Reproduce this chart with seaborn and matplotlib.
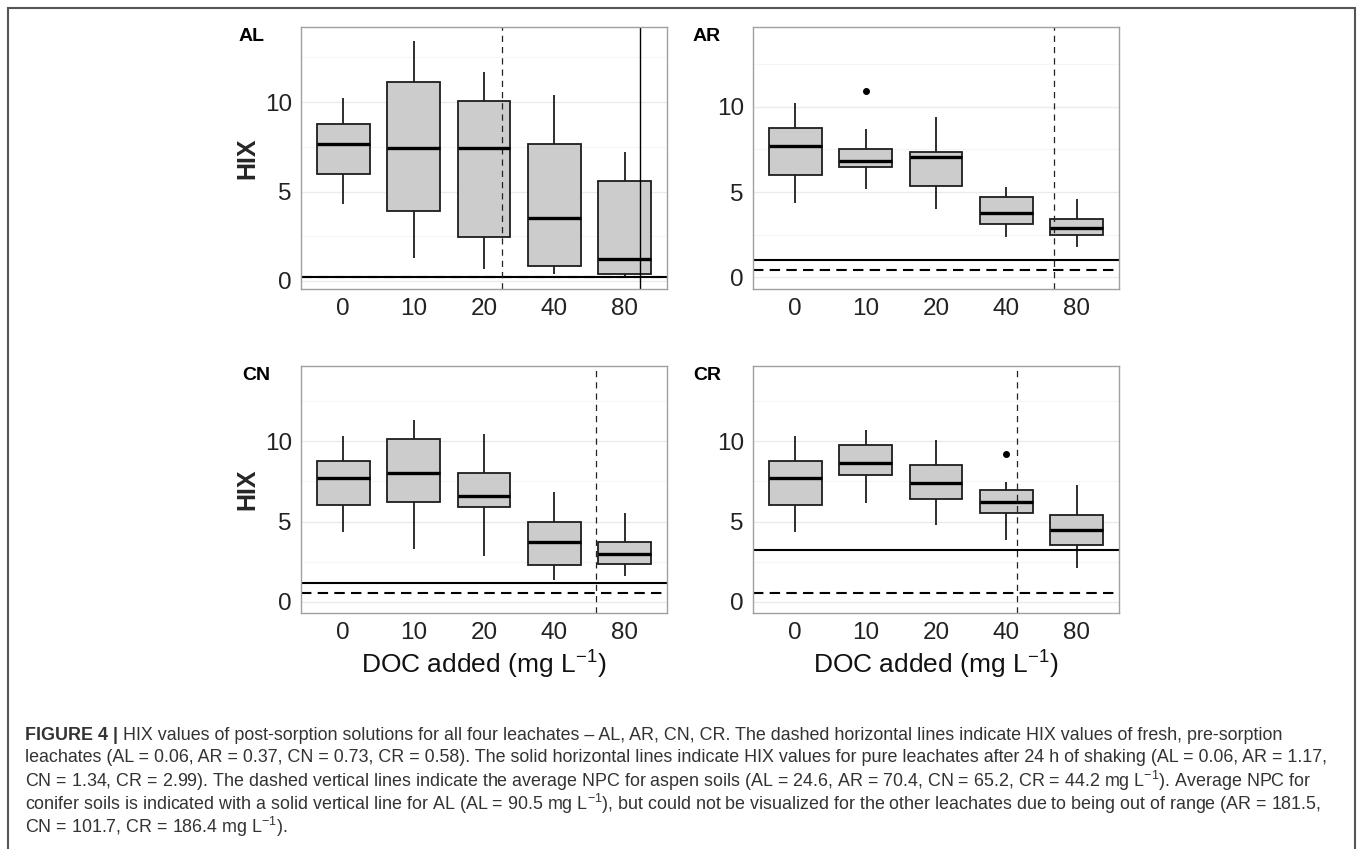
import numpy as np
import pandas as pd
import matplotlib
matplotlib.use("Agg")
import matplotlib.pyplot as plt
import seaborn as sns
from matplotlib.patches import Rectangle
from matplotlib.ticker import MultipleLocator

# --- data ---------------------------------------------------------------
doc_levels = ["0", "10", "20", "40", "80"]
panels = ["AL", "AR", "CN", "CR"]

# box summaries per panel, one value per DOC level
whisker_low = {
    "AL": [4.31, 1.30, 0.69, 0.39, 0.24],
    "AR": [4.33, 5.16, 3.98, 2.37, 1.78],
    "CN": [4.35, 3.27, 2.88, 1.38, 1.63],
    "CR": [4.35, 6.17, 4.77, 3.88, 2.08],
}
q1 = {
    "AL": [5.98, 3.93, 2.44, 0.85, 0.37],
    "AR": [5.98, 6.49, 5.35, 3.14, 2.47],
    "CN": [6.02, 6.23, 5.90, 2.31, 2.35],
    "CR": [6.02, 7.90, 6.42, 5.52, 3.56],
}
median = {
    "AL": [7.68, 7.41, 7.41, 3.50, 1.20],
    "AR": [7.71, 6.84, 7.04, 3.75, 2.88],
    "CN": [7.73, 8.00, 6.60, 3.73, 3.00],
    "CR": [7.73, 8.63, 7.42, 6.21, 4.50],
}
q3 = {
    "AL": [8.76, 11.15, 10.07, 7.63, 5.61],
    "AR": [8.78, 7.51, 7.37, 4.71, 3.41],
    "CN": [8.79, 10.15, 8.00, 5.00, 3.71],
    "CR": [8.79, 9.77, 8.54, 6.98, 5.42],
}
whisker_high = {
    "AL": [10.24, 13.42, 11.69, 10.41, 7.19],
    "AR": [10.22, 8.69, 9.43, 5.27, 4.57],
    "CN": [10.31, 11.33, 10.48, 6.85, 5.54],
    "CR": [10.31, 10.71, 10.10, 7.46, 7.31],
}
# single outliers: panel -> (level index, value)
outliers = {"AR": (1, 10.94), "CR": (3, 9.20)}

# reference lines
fresh_hix = {"AL": 0.20, "AR": 0.40, "CN": 0.56, "CR": 0.56}     # dashed
shaken_hix = {"AL": 0.20, "AR": 1.00, "CN": 1.19, "CR": 3.25}    # solid
aspen_npc_pos = {"AL": 2.26, "AR": 3.67, "CN": 3.59, "CR": 3.15}  # dashed vertical
conifer_npc_pos = {"AL": 4.21}                                     # solid vertical

y_limits = {"AL": (-0.45, 14.2), "AR": (-0.7, 14.7), "CN": (-0.7, 14.7), "CR": (-0.7, 14.7)}

caption_lines = [
    " HIX values of post-sorption solutions for all four leachates \u2013 AL, AR, CN, CR. "
    "The dashed horizontal lines indicate HIX values of fresh, pre-sorption",
    "leachates (AL = 0.06, AR = 0.37, CN = 0.73, CR = 0.58). The solid horizontal lines "
    "indicate HIX values for pure leachates after 24 h of shaking (AL = 0.06, AR = 1.17,",
    "CN = 1.34, CR = 2.99). The dashed vertical lines indicate the average NPC for aspen "
    "soils (AL = 24.6, AR = 70.4, CN = 65.2, CR = 44.2 mg L$^{-1}$). Average NPC for",
    "conifer soils is indicated with a solid vertical line for AL (AL = 90.5 mg L$^{-1}$), "
    "but could not be visualized for the other leachates due to being out of range (AR = 181.5,",
    "CN = 101.7, CR = 186.4 mg L$^{-1}$).",
]


def box_sample(panel, i):
    lo, a, m, b, hi = (whisker_low[panel][i], q1[panel][i], median[panel][i],
                       q3[panel][i], whisker_high[panel][i])
    if panel in outliers and outliers[panel][0] == i:
        return [lo, a, a, m, m, b, b, hi, outliers[panel][1]]
    return [lo, a, m, b, hi]


rows = []
for p in panels:
    for i, lvl in enumerate(doc_levels):
        for v in box_sample(p, i):
            rows.append({"panel": p, "doc": lvl, "hix": v})
df = pd.DataFrame(rows)

# --- styling -------------------------------------------------------------
sns.set_style("white")
plt.rcParams["font.family"] = ["Liberation Sans", "DejaVu Sans"]
plt.rcParams["mathtext.fontset"] = "custom"
plt.rcParams["mathtext.rm"] = "Liberation Sans"
plt.rcParams["mathtext.it"] = "Liberation Sans:italic"
plt.rcParams["mathtext.bf"] = "Liberation Sans:bold"
plt.rcParams["mathtext.default"] = "regular"

W, H = 1358, 849
fig = plt.figure(figsize=(W / 100, H / 100), dpi=100)

# axes boxes in pixels: left, top, right, bottom
rects = {
    "AL": (301, 27, 667, 289),
    "AR": (753, 27, 1119, 289),
    "CN": (301, 366, 667, 613),
    "CR": (753, 366, 1119, 613),
}
label_pos = {"AL": (239, 28), "AR": (693, 28), "CN": (242, 367), "CR": (693, 367)}

for p in panels:
    l, t, r, b = rects[p]
    ax = fig.add_axes([l / W, 1 - b / H, (r - l) / W, (b - t) / H])
    ax.set_facecolor("white")
    ax.set_axisbelow(True)
    ax.yaxis.set_major_locator(MultipleLocator(5))
    ax.yaxis.set_minor_locator(MultipleLocator(2.5))
    ax.grid(which="major", color="#EBEBEB", linewidth=1.0)
    ax.grid(which="minor", axis="y", color="#F5F5F5", linewidth=0.8)

    sns.boxplot(
        data=df[df["panel"] == p], x="doc", y="hix", order=doc_levels,
        color="#CCCCCC", saturation=1, width=0.75, linecolor="#1E1E1E",
        linewidth=1.3, showcaps=False, ax=ax,
        medianprops=dict(color="black", linewidth=2.4),
        flierprops=dict(marker="o", markerfacecolor="black",
                        markeredgecolor="black", markersize=4),
    )

    ax.axhline(shaken_hix[p], color="black", linewidth=1.5)
    ax.axhline(fresh_hix[p], color="black", linewidth=1.5, linestyle=(0, (5, 3)))
    ax.axvline(aspen_npc_pos[p], color="#222222", linewidth=0.9, linestyle=(0, (5, 4)))
    if p in conifer_npc_pos:
        ax.axvline(conifer_npc_pos[p], color="black", linewidth=1.0)

    ax.set_xlim(-0.6, 4.6)
    ax.set_ylim(*y_limits[p])
    ax.set_xlabel("")
    ax.set_ylabel("")
    for s in ax.spines.values():
        s.set_visible(True)
        s.set_color("#A0A0A0")
        s.set_linewidth(1.0)
    ax.tick_params(axis="both", which="major", labelsize=17.5, labelcolor="#222222",
                   color="#555555", length=3.5, width=0.8, pad=3)
    ax.tick_params(which="minor", length=0)

    lx, ly = label_pos[p]
    fig.text(lx / W, 1 - ly / H, p, fontsize=14, fontweight="bold",
             ha="left", va="top", color="black")

# y labels on the left column
for p in ["AL", "CN"]:
    l, t, r, b = rects[p]
    fig.text(247 / W, 1 - (t + b) / 2 / H, "HIX", rotation=90, fontsize=18,
             fontweight="bold", ha="center", va="center")

# x labels under the bottom row
for p in ["CN", "CR"]:
    l, t, r, b = rects[p]
    fig.text((l + r) / 2 / W, 1 - 674 / H, "DOC added (mg L$^{-1}$)", fontsize=19,
             ha="center", va="baseline", color="#111111")

# caption
cap_y = [735, 758, 781, 804, 827]
cap_size = 12.9
renderer = fig.canvas.get_renderer()
head = fig.text(25 / W, 1 - cap_y[0] / H, "FIGURE 4 |", fontsize=cap_size, fontweight="bold",
                color="#333333", ha="left", va="center")
bb = head.get_window_extent(renderer=renderer)
fig.text(bb.x1 / W, 1 - cap_y[0] / H, caption_lines[0], fontsize=cap_size, color="#333333",
         ha="left", va="center")
for y, line in zip(cap_y[1:], caption_lines[1:]):
    fig.text(25 / W, 1 - y / H, line, fontsize=cap_size, color="#333333",
             ha="left", va="center")

# outer frame of the figure panel
fig.patches.append(Rectangle((8 / W, -0.1), (1355 - 8) / W, 1.1 - 8 / H,
                             transform=fig.transFigure, fill=False,
                             edgecolor="#555555", linewidth=1.5))

fig.savefig("out.png", dpi=100)
